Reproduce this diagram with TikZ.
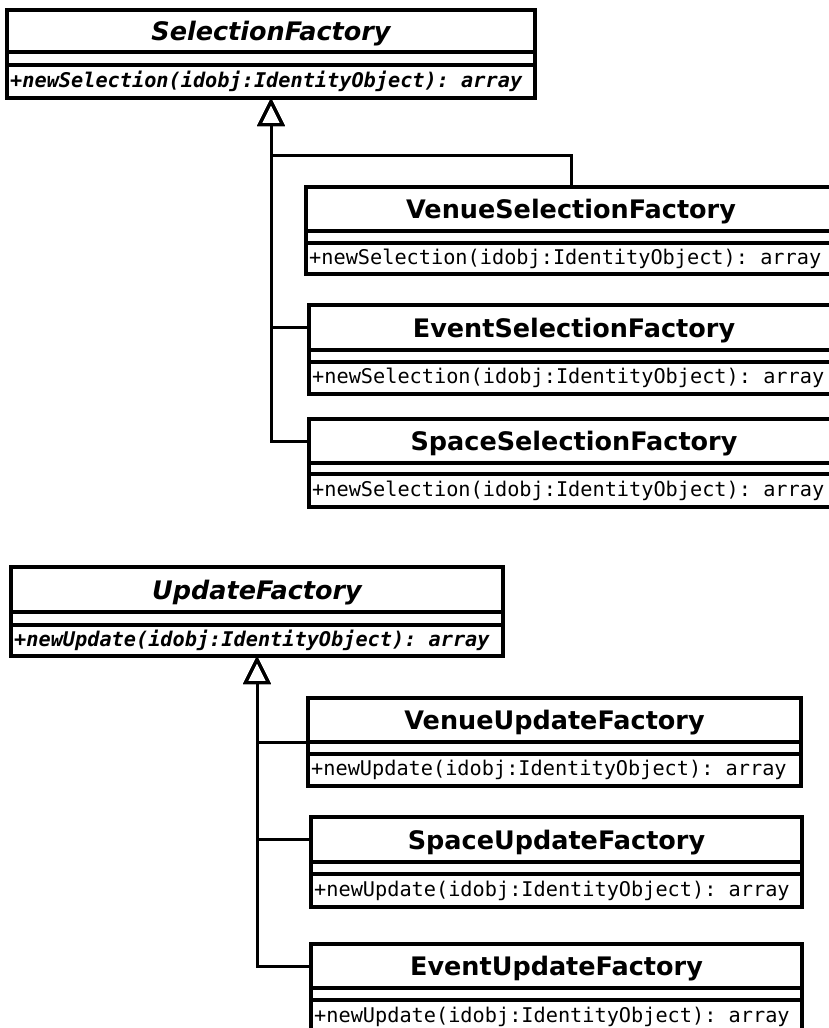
\documentclass[tikz,border=0pt]{standalone}
\usepackage{fontspec}
\setmainfont{DejaVu Sans}
\setmonofont{DejaVu Sans Mono}
\usetikzlibrary{arrows.meta}
\tikzset{
  cbox/.style={draw, line width=3.2pt, rectangle, inner sep=0pt, outer sep=0pt, anchor=north west},
  titlebox/.style={cbox, text depth=0pt, font=\bfseries\fontsize{25.5}{30}\selectfont},
  mtext/.style={anchor=west, inner sep=0pt, font=\ttfamily\fontsize{20.25}{24}\selectfont},
  gen/.style={line width=3pt, -{Triangle[open, length=28pt, width=27pt, line width=3pt]}},
}
\newcommand\classbox[9]{%
  \node[titlebox, minimum width={(#4-(#2))*1pt}, minimum height={(#5-(#3))*1pt}] (#1) at (#2,#3) {#8};
  \node[cbox, minimum width={(#4-(#2))*1pt}, minimum height={(#6-(#5))*1pt}] (#1-a) at (#1.south west) {};
  \node[cbox, minimum width={(#4-(#2))*1pt}, minimum height={(#7-(#6))*1pt}] (#1-m) at (#1-a.south west) {};
  \node[mtext] (#1-t) at ([xshift=3pt]#1-m.west) {#9};
}
\begin{document}
\begin{tikzpicture}[x=1pt, y=-1pt]
\useasboundingbox (0,0) rectangle (829,1028);
\fill[white] (0,0) rectangle (829,1028);
\clip (0,0) rectangle (829,1028);

% Selection hierarchy
\classbox{sf}{7}{10}{535}{52}{65}{98}{\itshape SelectionFactory}{\bfseries\itshape +newSelection(idobj:IdentityObject): array}
\classbox{vsf}{306}{187}{836}{231}{243}{274}{VenueSelectionFactory}{+newSelection(idobj:IdentityObject): array}
\classbox{esf}{309}{305}{839}{350}{362}{394}{EventSelectionFactory}{+newSelection(idobj:IdentityObject): array}
\classbox{ssf}{309}{419}{839}{463}{474}{507}{SpaceSelectionFactory}{+newSelection(idobj:IdentityObject): array}

\draw[gen] (vsf.north) -- ++(0,-32) -| (sf-m.south);
\draw[gen] (esf.west) -| (sf-m.south);
\draw[gen] (ssf.west) -| (sf-m.south);

% Update hierarchy
\classbox{uf}{11}{567}{503}{612}{625}{656}{\itshape UpdateFactory}{\bfseries\itshape +newUpdate(idobj:IdentityObject): array}
\classbox{vuf}{308}{698}{801}{742}{754}{786}{VenueUpdateFactory}{+newUpdate(idobj:IdentityObject): array}
\classbox{suf}{311}{817}{802}{862}{874}{907}{SpaceUpdateFactory}{+newUpdate(idobj:IdentityObject): array}
\classbox{euf}{311}{944}{802}{988}{1000}{1033}{EventUpdateFactory}{+newUpdate(idobj:IdentityObject): array}

\draw[gen] (vuf.south west) -| (uf-m.south);
\draw[gen] (suf.west) -| (uf-m.south);
\draw[gen] (euf.west) -| (uf-m.south);
\end{tikzpicture}
\end{document}
